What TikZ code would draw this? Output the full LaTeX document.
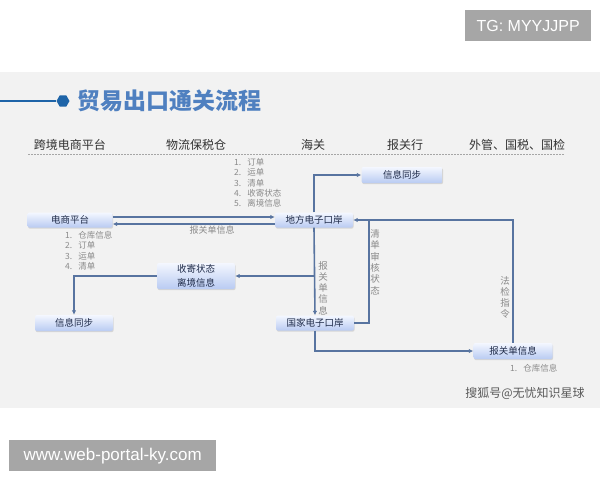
\documentclass[tikz,border=0pt]{standalone}
\usepackage{fontspec}
\setmainfont{Liberation Sans}
\newfontfamily\cjk{Noto Sans CJK SC}
\usetikzlibrary{shapes.geometric,shadows,arrows.meta}
\definecolor{panel}{HTML}{F2F2F2}
\definecolor{wm}{HTML}{A6A6A6}
\definecolor{conn}{HTML}{5874A0}
\definecolor{boxtop}{HTML}{F4F7FF}
\definecolor{boxbot}{HTML}{B9CBF2}
\definecolor{boxtext}{HTML}{1E2A48}
\definecolor{lbl}{HTML}{8A8A8A}
\definecolor{ttl}{HTML}{4F80C0}
\definecolor{hexc}{HTML}{1E64A8}
\definecolor{hdr}{HTML}{333333}
\tikzset{
  box/.style={rounded corners=2pt, top color=boxtop, bottom color=boxbot, draw=none,
    inner sep=0pt, text=boxtext, font=\cjk\fontsize{9.5}{14}\selectfont, align=center,
    drop shadow={shadow xshift=0.6pt, shadow yshift=-1.2pt, opacity=0.25}},
  arr/.style={draw=conn, line width=1.6pt, -{Latex[length=4.5pt,width=4.5pt]}},
  ln/.style={draw=conn, line width=1.6pt},
  lab/.style={text=lbl, font=\cjk\fontsize{9}{11}\selectfont, inner sep=0pt, align=center},
  lst/.style={text=lbl, font=\cjk\fontsize{8.5}{10.4}\selectfont, inner sep=0pt, align=left, anchor=north west},
  hdrtxt/.style={text=hdr, font=\cjk\fontsize{12}{14}\selectfont, inner sep=0pt},
  wmbox/.style={fill=wm, text=white, inner sep=0pt, anchor=north west}
}
\begin{document}
\begin{tikzpicture}[x=1pt,y=-1pt]
\useasboundingbox (0,0) rectangle (600,480);
\fill[white] (0,0) rectangle (600,480);
\fill[panel] (0,72) rectangle (600,408);
% watermark boxes
\node[wmbox, minimum width=126pt, minimum height=31pt, font=\fontsize{16}{18}\selectfont] (tg) at (465,10) {TG: MYYJJPP};
\node[wmbox, minimum width=207pt, minimum height=31pt, font=\fontsize{17}{19}\selectfont] (www) at (9,440) {www.web-portal-ky.com};
% title
\node[regular polygon, regular polygon sides=6, fill=hexc, minimum size=13pt, inner sep=0pt] (hex) at (63,101) {};
\coordinate (tl) at (0,101);
\draw[hexc, line width=1.5pt] (tl) -- (hex);
\node[anchor=west, inner sep=0pt, text=ttl, font=\cjk\bfseries\fontsize{23}{26}\selectfont] (title) at (77,101) {贸易出口通关流程};
% headers
\node[hdrtxt] (h1) at (70,145) {跨境电商平台};
\node[hdrtxt] (h2) at (196,145) {物流保税仓};
\node[hdrtxt] (h3) at (313,145) {海关};
\node[hdrtxt] (h4) at (405,145) {报关行};
\node[hdrtxt] (h5) at (517,145) {外管、国税、国检};
\coordinate (dl) at (28,154);
\coordinate (dr) at (564,154);
\draw[gray!70, dash pattern=on 1.5pt off 1.5pt, line width=0.6pt] (dl) -- (dr);
% nodes
\node[box, minimum width=85pt, minimum height=15pt] (ds) at (70,220) {电商平台};
\node[box, minimum width=78pt, minimum height=15pt] (df) at (314,220) {地方电子口岸};
\node[box, minimum width=81pt, minimum height=16pt] (xt1) at (402,175) {信息同步};
\node[box, minimum width=78pt, minimum height=26pt] (sj) at (196,276) {收寄状态\\离境信息};
\node[box, minimum width=78pt, minimum height=16pt] (xt2) at (74,323) {信息同步};
\node[box, minimum width=78pt, minimum height=15pt] (gj) at (315,323) {国家电子口岸};
\node[box, minimum width=79pt, minimum height=16pt] (bg) at (513,351) {报关单信息};
% connectors
\draw[arr] (ds.east |- 0,217) -- (df.west |- 0,217);
\draw[arr] (df.west |- 0,224) -- (ds.east |- 0,224);
\draw[arr] (df.north) |- (xt1.west);
\draw[arr] (df.south) -- (gj.north);
\draw[arr] (df.south |- sj.east) -- (sj.east);
\draw[arr] (sj.west) -| (xt2.north);
\coordinate (m) at (369,220);
\draw[ln] (gj.east) -| (m);
\draw[arr] (bg.north) |- (df.east);
\draw[arr] (gj.south) |- (bg.west);
% labels
\node[lab] (l1) at (212,230) {报关单信息};
\node[lab, font=\cjk\fontsize{9.5}{11.2}\selectfont] (l2) at (323,288) {报\\关\\单\\信\\息};
\node[lab, font=\cjk\fontsize{9.5}{11.4}\selectfont] (l3) at (375,262) {清\\单\\审\\核\\状\\态};
\node[lab, font=\cjk\fontsize{9.5}{11}\selectfont] (l4) at (505,297) {法\\检\\指\\令};
% lists
\node[lst] (list1) at (234,158) {1.\hspace{6pt}订单\\2.\hspace{6pt}运单\\3.\hspace{6pt}清单\\4.\hspace{6pt}收寄状态\\5.\hspace{6pt}离境信息};
\node[lst] (list2) at (65,231) {1.\hspace{6pt}仓库信息\\2.\hspace{6pt}订单\\3.\hspace{6pt}运单\\4.\hspace{6pt}清单};
\node[lst] (list3) at (510,364) {1.\hspace{6pt}仓库信息};
% source watermark
\node[text=black!65, font=\cjk\fontsize{12}{14}\selectfont, inner sep=0pt] (src) at (525,393) {搜狐号@无忧知识星球};
\end{tikzpicture}
\end{document}
